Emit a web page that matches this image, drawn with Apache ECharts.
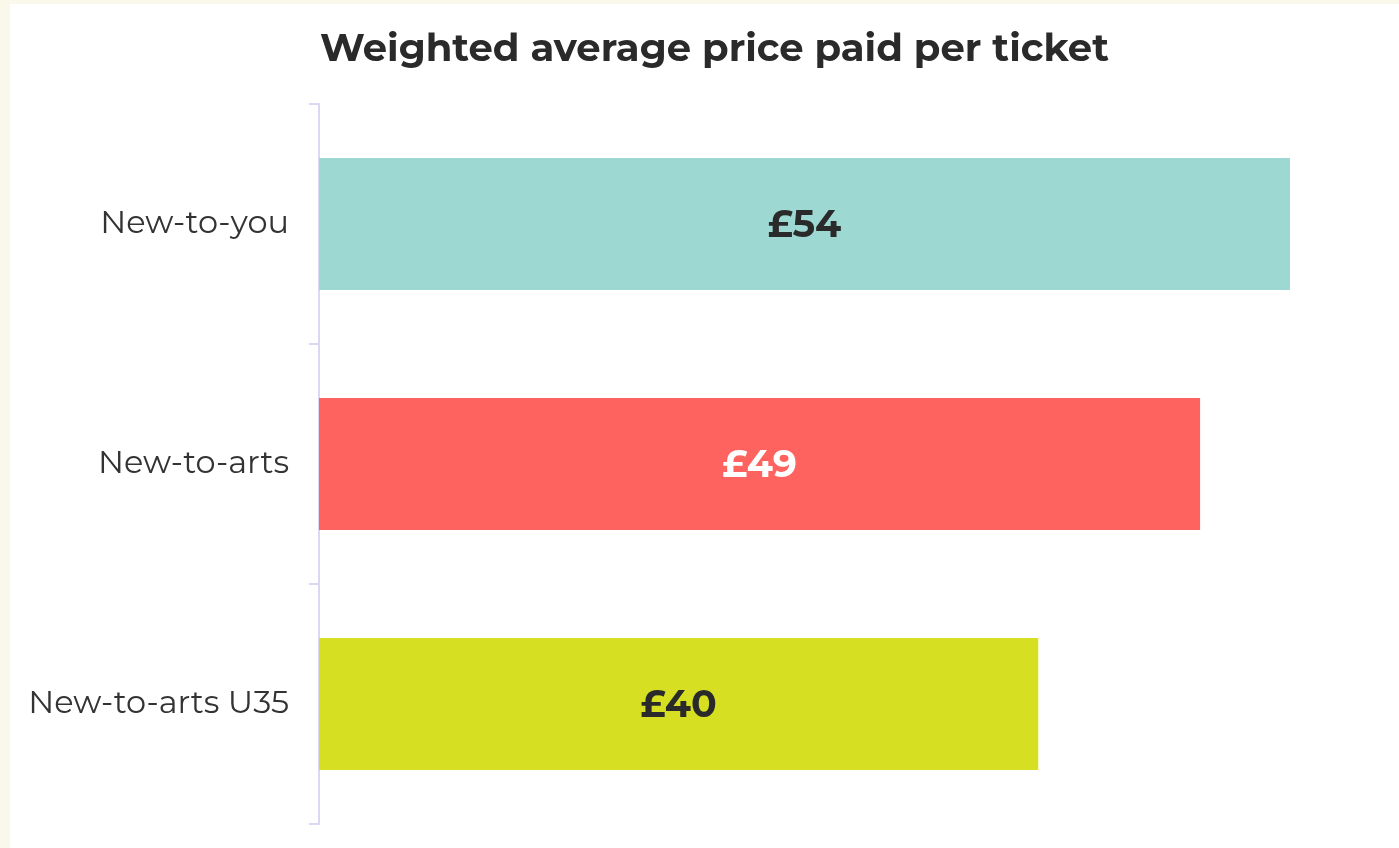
<!DOCTYPE html>
<html>
<head>
<meta charset="utf-8">
<script src="https://cdn.jsdelivr.net/npm/echarts@6/dist/echarts.min.js"></script>
<style>
  html, body { margin: 0; padding: 0; background: #faf8eb; }
  #chart { position: absolute; left: 10px; top: 4px; width: 1389px; height: 844px; background: #ffffff; }
</style>
</head>
<body>
<div id="chart"></div>
<script>
// Audience groups, top to bottom
const categories = ['New-to-you', 'New-to-arts', 'New-to-arts U35'];
// Weighted average price paid per ticket, in pounds
const prices = [54, 49, 40];
const barColors = ['#9dd9d2', '#ff635f', '#d6df22'];
const labelColors = ['#2a2a2a', '#ffffff', '#2a2a2a'];

const FONT = 'Montserrat, Inter, "Open Sans", sans-serif';

const chart = echarts.init(document.getElementById('chart'), null, { renderer: 'canvas' });

chart.setOption({
  animation: false,
  backgroundColor: '#ffffff',
  title: {
    text: 'Weighted average price paid per ticket',
    left: 305,
    top: 21,
    textStyle: { fontFamily: FONT, fontWeight: 700, fontSize: 38.6, color: '#2a2a2a' }
  },
  grid: { left: 309, right: 109, top: 100, bottom: 24, containLabel: false },
  xAxis: {
    type: 'value',
    min: 0,
    max: 54,
    show: false
  },
  yAxis: {
    type: 'category',
    data: categories,
    inverse: true,
    axisLine: { show: true, lineStyle: { color: '#dcd6f7', width: 2 } },
    axisTick: { show: true, length: 10, lineStyle: { color: '#dcd6f7', width: 2 } },
    axisLabel: {
      margin: 30, fontFamily: FONT, fontWeight: 400, fontSize: 32, color: '#333333',
      padding: [4, 0, 0, 0]
    },
    splitLine: { show: false }
  },
  series: [{
    type: 'bar',
    barWidth: 132,
    data: prices.map((v, i) => ({
      value: v,
      itemStyle: { color: barColors[i] },
      label: { color: labelColors[i] }
    })),
    label: {
      show: true,
      position: 'inside',
      offset: [0, 2],
      formatter: p => '£' + p.value,
      fontFamily: FONT,
      fontWeight: 700,
      fontSize: 38
    }
  }]
});
</script>
</body>
</html>
